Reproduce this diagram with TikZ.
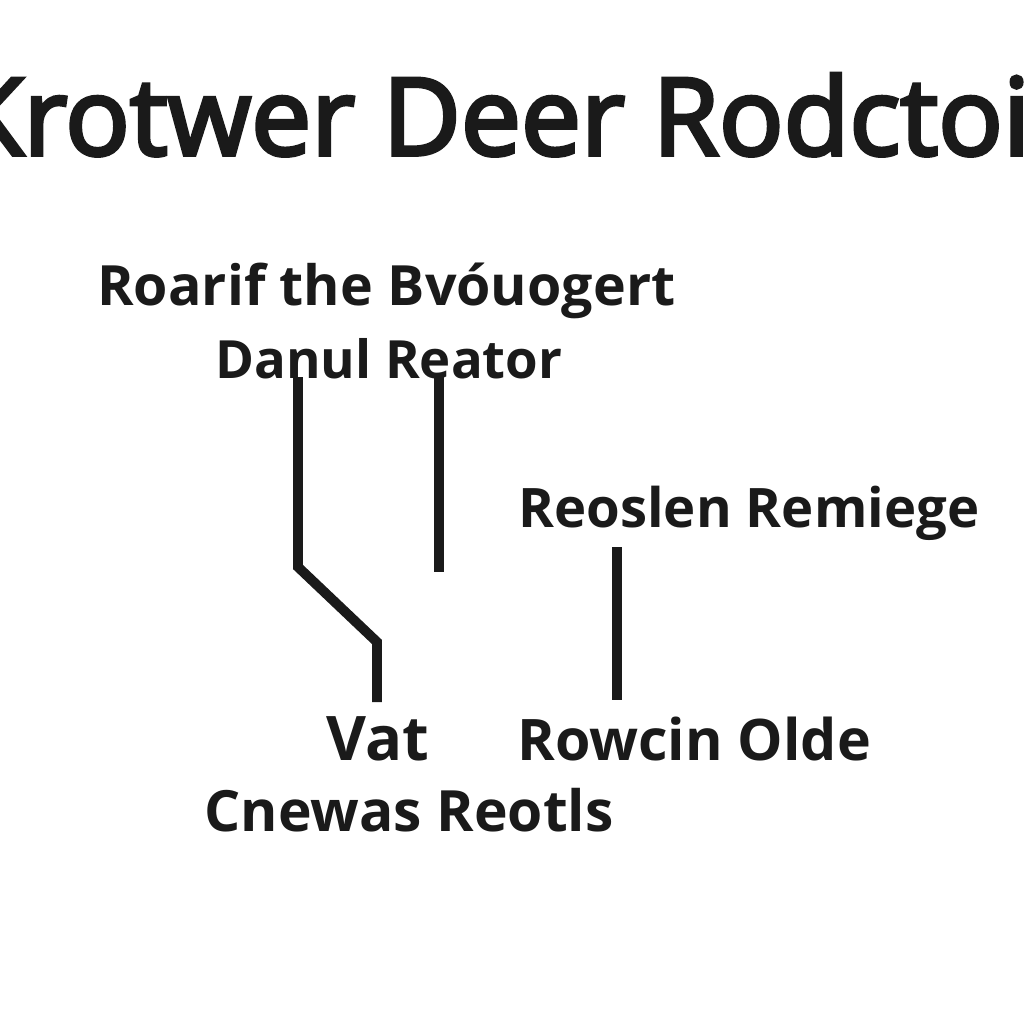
\documentclass[tikz,border=0pt]{standalone}
\usepackage{fontspec}
\setmainfont{Open Sans}
\newfontfamily\titlefont{Open Sans}[FakeBold=3.5]
\definecolor{ink}{HTML}{1A1A1A}
\begin{document}
\begin{tikzpicture}[x=0.02cm,y=-0.02cm,
  lbl/.style={inner sep=0pt,anchor=base west,text=ink,font=\bfseries\fontsize{#1}{#1}\selectfont},
  ttl/.style={inner sep=0pt,anchor=base,text=ink,font=\titlefont\fontsize{61}{70}\selectfont},
  wire/.style={draw=ink,line width=5.6pt}]
\fill[white] (0,0) rectangle (1024,1024);
\useasboundingbox (0,0) rectangle (1024,1024);
\begin{scope}
\clip (0,0) rectangle (1024,1024);
\node[ttl] (title) at (494,155) {Krotwer Deer Rodctoi};
\end{scope}
\node[lbl=31.6] (l1) at (97,305) {Roarif the Bvóuogert};
\node[lbl=30] (l2) at (215,378) {Danul Reator};
\node[lbl=31] (l3) at (518,527) {Reoslen Remiege};
\node[lbl=35] (l4) at (326,760) {Vat};
\node[lbl=32.6] (l5) at (517,760) {Rowcin Olde};
\node[lbl=32.4] (l6) at (204,831) {Cnewas Reotls};
\coordinate (a1) at (298,377);
\coordinate (a2) at (298,567);
\coordinate (a3) at (377,642);
\coordinate (a4) at (377,702);
\coordinate (b1) at (439,377);
\coordinate (b2) at (439,572);
\coordinate (c1) at (617,547);
\coordinate (c2) at (617,700);
\draw[wire] (a1) -- (a2) -- (a3) -- (a4);
\draw[wire] (b1) -- (b2);
\draw[wire] (c1) -- (c2);
\end{tikzpicture}
\end{document}
